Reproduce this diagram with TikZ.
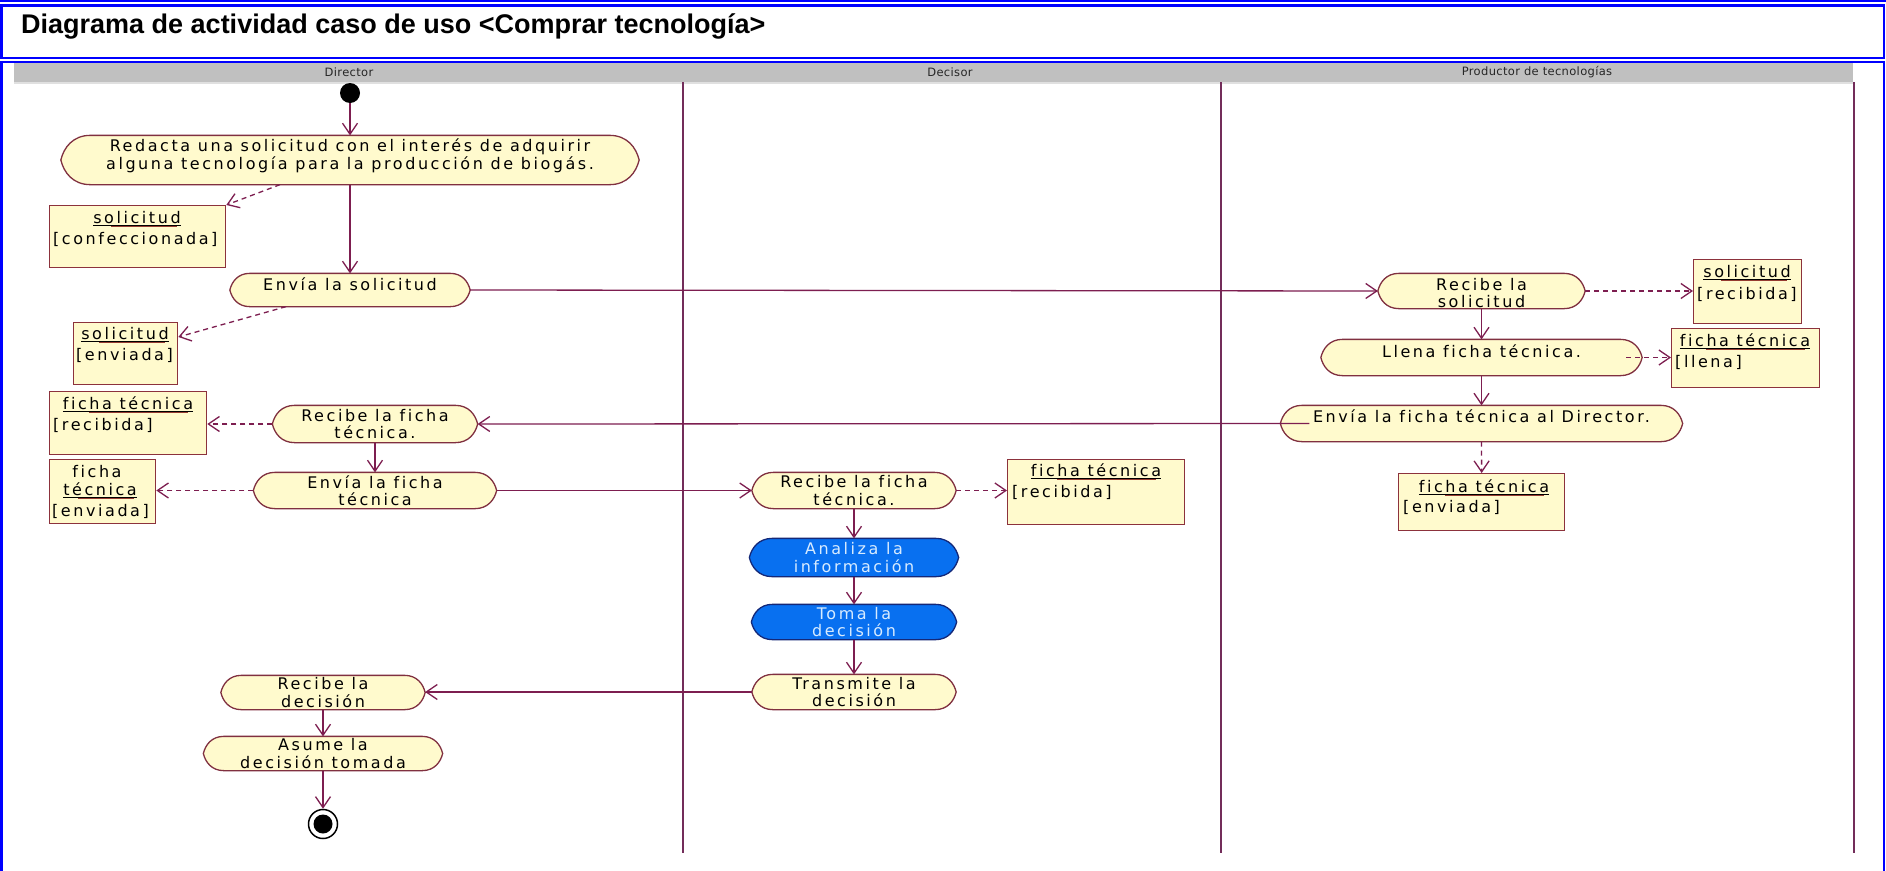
\documentclass[tikz,border=0pt]{standalone}
\usepackage{fontspec}
\usetikzlibrary{arrows.meta}

\newfontfamily\actfont{DejaVu Sans}[LetterSpace=16,Ligatures=CommonOff]
\newfontfamily\lanefont{DejaVu Sans}[LetterSpace=3]
\newfontfamily\titlefont{Liberation Sans}

\definecolor{actfill}{RGB}{255,250,205}
\definecolor{actline}{RGB}{128,48,64}
\definecolor{objborder}{RGB}{140,50,60}
\definecolor{objline}{RGB}{150,60,50}
\definecolor{conn}{RGB}{125,30,80}
\definecolor{laneline}{RGB}{115,45,90}
\definecolor{hdr}{RGB}{192,192,192}
\definecolor{frameblue}{RGB}{0,0,255}
\definecolor{bluefill}{RGB}{8,112,240}
\definecolor{blueline}{RGB}{20,40,120}
\definecolor{bluetext}{RGB}{215,235,255}

% Activity state: a bar with bulging, slightly pointed ends
\makeatletter
\newdimen\act@xa \newdimen\act@xb \newdimen\act@ya \newdimen\act@yb
\newdimen\act@b \newdimen\act@ym \newdimen\act@hh
\pgfdeclareshape{umlactivity}{
  \inheritsavedanchors[from=rectangle]
  \inheritanchorborder[from=rectangle]
  \inheritanchor[from=rectangle]{center}
  \inheritanchor[from=rectangle]{north}
  \inheritanchor[from=rectangle]{south}
  \inheritanchor[from=rectangle]{east}
  \inheritanchor[from=rectangle]{west}
  \inheritanchor[from=rectangle]{north east}
  \inheritanchor[from=rectangle]{north west}
  \inheritanchor[from=rectangle]{south east}
  \inheritanchor[from=rectangle]{south west}
  \inheritanchor[from=rectangle]{text}
  \inheritanchor[from=rectangle]{base}
  \inheritanchor[from=rectangle]{mid}
  \backgroundpath{%
    \southwest \act@xa=\pgf@x \act@ya=\pgf@y
    \northeast \act@xb=\pgf@x \act@yb=\pgf@y
    \act@hh=\act@yb \advance\act@hh by -\act@ya \divide\act@hh by 2
    \act@ym=\act@ya \advance\act@ym by \act@hh
    \act@b=1.2\act@hh
    \pgfpathmoveto{\pgfqpoint{\dimexpr\act@xa+\act@b\relax}{\act@yb}}%
    \pgfpathlineto{\pgfqpoint{\dimexpr\act@xb-\act@b\relax}{\act@yb}}%
    \pgfpathcurveto{\pgfqpoint{\dimexpr\act@xb-0.4\act@b\relax}{\act@yb}}%
      {\pgfqpoint{\dimexpr\act@xb-0.1\act@b\relax}{\dimexpr\act@ym+0.5\act@hh\relax}}%
      {\pgfqpoint{\act@xb}{\act@ym}}%
    \pgfpathcurveto{\pgfqpoint{\dimexpr\act@xb-0.1\act@b\relax}{\dimexpr\act@ym-0.5\act@hh\relax}}%
      {\pgfqpoint{\dimexpr\act@xb-0.4\act@b\relax}{\act@ya}}%
      {\pgfqpoint{\dimexpr\act@xb-\act@b\relax}{\act@ya}}%
    \pgfpathlineto{\pgfqpoint{\dimexpr\act@xa+\act@b\relax}{\act@ya}}%
    \pgfpathcurveto{\pgfqpoint{\dimexpr\act@xa+0.4\act@b\relax}{\act@ya}}%
      {\pgfqpoint{\dimexpr\act@xa+0.1\act@b\relax}{\dimexpr\act@ym-0.5\act@hh\relax}}%
      {\pgfqpoint{\act@xa}{\act@ym}}%
    \pgfpathcurveto{\pgfqpoint{\dimexpr\act@xa+0.1\act@b\relax}{\dimexpr\act@ym+0.5\act@hh\relax}}%
      {\pgfqpoint{\dimexpr\act@xa+0.4\act@b\relax}{\act@yb}}%
      {\pgfqpoint{\dimexpr\act@xa+\act@b\relax}{\act@yb}}%
    \pgfpathclose
  }
}
\makeatother

% object name with its double underline
\newcommand\objname[1]{\setbox0=\hbox{#1}\leavevmode
  \rlap{\color{black}\rule[-2.4pt]{\wd0}{0.9pt}}%
  \rlap{\hspace{0.2\wd0}\color{objline}\rule[-4.2pt]{0.76\wd0}{1.1pt}}%
  \box0}

\tikzset{
  act/.style={shape=umlactivity, draw=actline, fill=actfill, line width=1.3pt, inner sep=0pt},
  actblue/.style={act, draw=blueline, fill=bluefill},
  atxt/.style={font=\actfont\fontsize{16}{17.5}\selectfont, align=center, inner sep=0pt, text=black},
  btxt/.style={atxt, text=bluetext},
  obj/.style={draw=objborder, fill=actfill, line width=1.3pt, inner sep=0pt, anchor=north west},
  otxt/.style={font=\actfont\fontsize{16}{17.5}\selectfont, inner sep=0pt, anchor=base, text=black},
  ostate/.style={otxt, anchor=base west},
  lanelbl/.style={font=\lanefont\fontsize{11.5}{13}\selectfont, inner sep=0pt, text=black!85},
  flow/.style={draw=conn, line width=1.3pt, -{Straight Barb[length=11pt,width=15pt]}},
  dep/.style={flow, dash pattern=on 5pt off 4pt},
  startdot/.style={circle, fill=black, minimum size=20pt, inner sep=0pt},
  endring/.style={circle, draw=black, line width=1.5pt, fill=white, minimum size=29pt, inner sep=0pt},
  enddot/.style={circle, fill=black, minimum size=19pt, inner sep=0pt},
}

\begin{document}
\begin{tikzpicture}[x=1pt,y=-1pt]
\useasboundingbox (0,0) rectangle (1886,870);
\fill[white] (0,0) rectangle (1886,870);

% page frames
\draw[frameblue, line width=2pt] (0,1) -- (1886,1);
\draw[frameblue, line width=2.5pt] (1.3,5.5) rectangle (1884.2,57.8);
\draw[frameblue, line width=2.5pt] (1.3,62.2) rectangle (1884.2,900);
\node[font=\titlefont\bfseries\fontsize{27}{32}\selectfont, anchor=base west, inner sep=0pt] (title) at (21,33)
  {Diagrama de actividad caso de uso <Comprar tecnología>};

% swimlanes
\fill[hdr] (14,63) rectangle (1853,82);
\draw[black!12, line width=1.5pt] (14,83.2) -- (1853,83.2);
\node[lanelbl] (lnDir) at (349,72.5) {Director};
\node[lanelbl] (lnDec) at (950,72.5) {Decisor};
\node[lanelbl] (lnPro) at (1537,72.5) {Productor de tecnologías};
\draw[laneline, line width=1.5pt] (683,82) -- (683,853);
\draw[laneline, line width=1.5pt] (1221,82) -- (1221,853);
\draw[laneline, line width=1.5pt] (1854,82) -- (1854,853);

% Director
\node[startdot] (start) at (350,93) {};
\node[act, minimum width=577pt, minimum height=48pt] (a1) at (350,160) {};
\node[atxt] (a1t) at ([yshift=4pt]a1.center) {Redacta una solicitud con el interés de adquirir\\alguna tecnología para la producción de biogás.};
\node[act, minimum width=239pt, minimum height=32pt] (a2) at (350,290) {};
\node[atxt] (a2t) at ([yshift=5.5pt]a2.center) {Envía la solicitud};
\node[act, minimum width=204pt, minimum height=36pt] (a3) at (375,424) {};
\node[atxt] (a3t) at (a3.center) {Recibe la ficha\\técnica.};
\node[act, minimum width=242pt, minimum height=35pt] (a4) at (375,490.5) {};
\node[atxt] (a4t) at (a4.center) {Envía la ficha\\técnica};
\node[act, minimum width=203pt, minimum height=33pt] (a5) at (323,692.5) {};
\node[atxt] (a5t) at (a5.center) {Recibe la\\decisión};
\node[act, minimum width=238pt, minimum height=33pt] (a6) at (323,753.5) {};
\node[atxt] (a6t) at (a6.center) {Asume la\\decisión tomada};
\node[endring] (end) at (323,824) {};
\node[enddot] (endcore) at (end.center) {};

\node[obj, minimum width=176pt, minimum height=62pt] (oConf) at (49,205) {};
\node[otxt] (oConfN) at (137,223) {\objname{solicitud}};
\node[ostate] (oConfS) at (53,244) {[confeccionada]};
\node[obj, minimum width=104pt, minimum height=62pt] (oEnv) at (73,322) {};
\node[otxt] (oEnvN) at (125,339) {\objname{solicitud}};
\node[ostate] (oEnvS) at (76,360) {[enviada]};
\node[obj, minimum width=157pt, minimum height=63pt] (oRecD) at (49,391) {};
\node[otxt] (oRecDN) at (128,409) {\objname{ficha técnica}};
\node[ostate] (oRecDS) at (53,430) {[recibida]};
\node[obj, minimum width=106pt, minimum height=64pt] (oEnvD) at (49,459) {};
\node[otxt] (oEnvDN1) at (97,477) {ficha};
\node[otxt] (oEnvDN2) at (100,495) {\objname{técnica}};
\node[ostate] (oEnvDS) at (52,516) {[enviada]};

% Decisor
\node[act, minimum width=203pt, minimum height=35pt] (d1) at (854,490.5) {};
\node[atxt] (d1t) at (d1.center) {Recibe la ficha\\técnica.};
\node[actblue, minimum width=208pt, minimum height=37pt] (d2) at (854,557.5) {};
\node[btxt] (d2t) at (d2.center) {Analiza la\\información};
\node[actblue, minimum width=204pt, minimum height=34pt] (d3) at (854,622) {};
\node[btxt] (d3t) at (d3.center) {Toma la\\decisión};
\node[act, minimum width=203pt, minimum height=34pt] (d4) at (854,692) {};
\node[atxt] (d4t) at (d4.center) {Transmite la\\decisión};
\node[obj, minimum width=177pt, minimum height=65pt] (oRecDec) at (1007,459) {};
\node[otxt] (oRecDecN) at (1096,476) {\objname{ficha técnica}};
\node[ostate] (oRecDecS) at (1012,497) {[recibida]};

% Productor de tecnologias
\node[act, minimum width=206pt, minimum height=34pt] (p1) at (1481.5,291) {};
\node[atxt] (p1t) at ([yshift=-2pt]p1.center) {Recibe la\\solicitud};
\node[act, minimum width=320pt, minimum height=35pt] (p2) at (1481.5,357.5) {};
\node[atxt] (p2t) at ([yshift=6pt]p2.center) {Llena ficha técnica.};
\node[act, minimum width=401pt, minimum height=35pt] (p3) at (1481.5,423.5) {};
\node[atxt] (p3t) at ([yshift=7pt]p3.center) {Envía la ficha técnica al Director.};
\node[obj, minimum width=108pt, minimum height=64pt] (oRecP) at (1693,259) {};
\node[otxt] (oRecPN) at (1747,277) {\objname{solicitud}};
\node[ostate] (oRecPS) at (1697,299) {[recibida]};
\node[obj, minimum width=148pt, minimum height=59pt] (oLlena) at (1671,328) {};
\node[otxt] (oLlenaN) at (1745,346) {\objname{ficha técnica}};
\node[ostate] (oLlenaS) at (1675,367) {[llena]};
\node[obj, minimum width=166pt, minimum height=57pt] (oEnvP) at (1398,473) {};
\node[otxt] (oEnvPN) at (1484,492) {\objname{ficha técnica}};
\node[ostate] (oEnvPS) at (1403,512) {[enviada]};

% control flows
\draw[flow] (start.south) -- (a1.north);
\draw[flow] (a1.south) -- (a2.north);
\draw[flow] (a2.east) -- (p1.west);
\draw[flow] (p1.south) -- (p2.north);
\draw[flow] (p2.south) -- (p3.north);
\draw[flow] ([xshift=29pt]p3.west) -- (a3.east);
\draw[flow] (a3.south) -- (a4.north);
\draw[flow] (a4.east) -- (d1.west);
\draw[flow] (d1.south) -- (d2.north);
\draw[flow] (d2.south) -- (d3.north);
\draw[flow] (d3.south) -- (d4.north);
\draw[flow] (d4.west) -- (a5.east |- d4.west);
\draw[flow] (a5.south) -- (a6.north);
\draw[flow] (a6.south) -- (end.north);

% object flows
\draw[dep] ([xshift=-70pt]a1.south) -- (oConf.north east);
\draw[dep] ([xshift=-64pt]a2.south) -- ([yshift=-15pt]oEnv.north east);
\draw[dep] (p1.east) -- (oRecP.west |- p1.east);
\draw[dep] ([xshift=-16pt]p2.east) -- (oLlena.west |- p2.east);
\draw[dep] (p3.south) -- (oEnvP.north);
\draw[dep] (a3.west) -- (oRecD.east |- a3.west);
\draw[dep] (a4.west) -- (oEnvD.east |- a4.west);
\draw[dep] (d1.east) -- (oRecDec.west |- d1.east);
\end{tikzpicture}
\end{document}
